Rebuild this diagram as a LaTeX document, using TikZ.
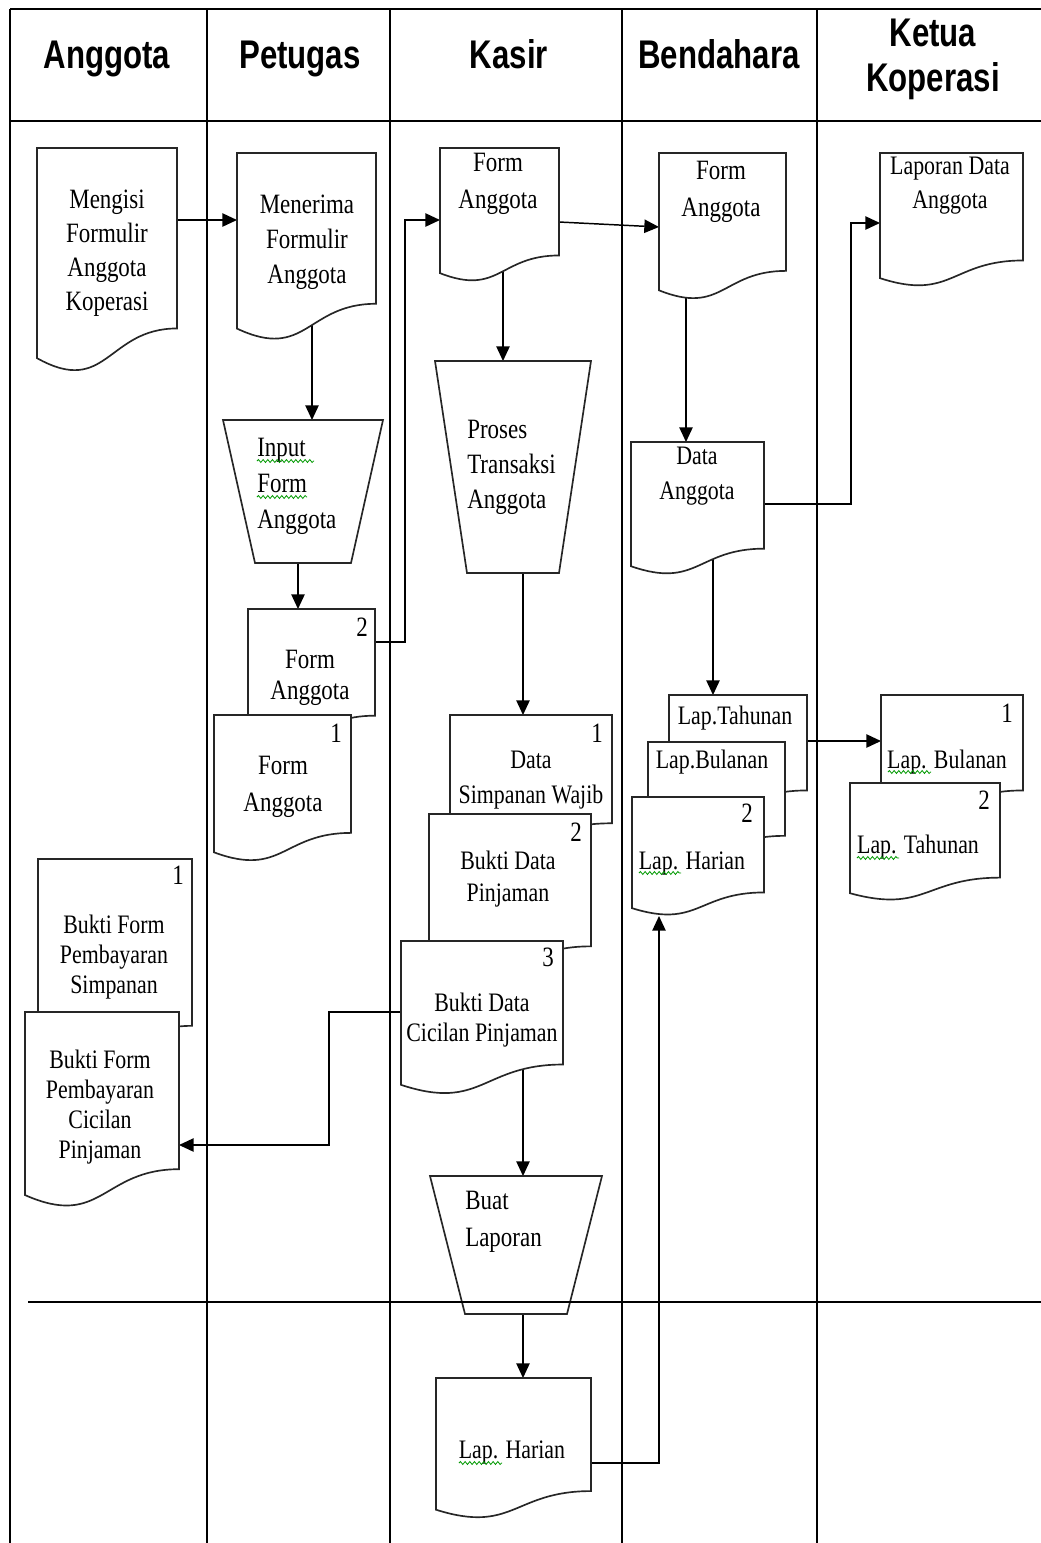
\documentclass[tikz,border=0pt]{standalone}
\usepackage{fontspec}
\setmainfont{Liberation Serif}[FakeStretch=0.82]
\newfontfamily\headfont{Liberation Sans}[FakeStretch=0.78]
\usetikzlibrary{calc,fit,arrows.meta,decorations.pathmorphing}

\pgfdeclarelayer{lanes}
\pgfdeclarelayer{links}
\pgfsetlayers{lanes,links,main}

% document symbol: straight top and sides, wavy bottom edge
\newcommand\flowdoc[5]{%
  \node[docbox, fit={(#2,#3) (#4,#5)}] (#1) {};
  \draw[outline] (#1.north west) -- (#1.north east)
    -- ($(#1.north east)!0.802!(#1.south east)$)
    .. controls ($(#1.north)!0.802!(#1.south)$) and ($(#1.north)!1.1075!(#1.south)$)
    .. ($(#1.north west)!0.934!(#1.south west)$) -- cycle;
}
% manual operation symbol: trapezium, wide side on top
\newcommand\flowtrap[6]{%
  \node[docbox, fit={(#2,#3) (#4,#5)}] (#1) {};
  \draw[outline] (#1.north west) -- (#1.north east)
    -- ($(#1.south east)+(-#6,0)$) -- ($(#1.south west)+(#6,0)$) -- cycle;
}

\begin{document}
\begin{tikzpicture}[x=0.75pt,y=-0.75pt,
  docbox/.style={inner sep=0pt, outer sep=0pt, draw=none},
  outline/.style={draw=black!85, line width=1.25pt, fill=white, line join=miter},
  laneline/.style={draw=black, line width=1.1pt},
  headline/.style={draw=black, line width=1.6pt},
  divider/.style={draw=black, line width=1.7pt},
  link/.style={draw=black, line width=1.1pt},
  arr/.style={link, -{Triangle[length=11pt,width=10pt]}},
  hdr/.style={inner sep=0pt, font=\headfont\bfseries\fontsize{30pt}{33.75pt}\selectfont, align=center},
  lbl/.style={inner sep=0pt, align=center, font=\fontsize{21pt}{#1}\selectfont},
  lbl/.default=26pt,
  slbl/.style={inner sep=0pt, align=center, font=\fontsize{20pt}{#1}\selectfont},
  slbl/.default=25pt,
  num/.style={inner sep=0pt, font=\fontsize{21pt}{21pt}\selectfont},
  squig/.style={draw=green!60!black, line width=0.6pt, decorate,
    decoration={snake, amplitude=1.1pt, segment length=3.5pt}},
]
\useasboundingbox (0,0) rectangle (1041,1543);

% swimlane frame
\begin{pgfonlayer}{lanes}
  \draw[headline] (10,9) -- (1041,9);
  \draw[headline] (10,121) -- (1041,121);
  \draw[laneline] (10,9) -- (10,1543);
  \foreach \x in {207,390,622,817} \draw[laneline] (\x,9) -- (\x,1543);
\end{pgfonlayer}

% lane titles
\node[hdr, anchor=base] (h-anggota) at (107,68) {Anggota};
\node[hdr, anchor=base] (h-petugas) at (300,68) {Petugas};
\node[hdr, anchor=base] (h-kasir) at (509,68) {Kasir};
\node[hdr, anchor=base] (h-bendahara) at (719,68) {Bendahara};
\node[hdr] (h-ketua) at (933,59) {Ketua\\Koperasi};

% Anggota: application form
\flowdoc{mengisi}{37}{148}{177}{373}
\node[lbl=25.5pt] (t-mengisi) at (107,253) {Mengisi\\Formulir\\Anggota\\Koperasi};

% Petugas
\flowdoc{menerima}{237}{153}{376}{341}
\node[lbl=26.25pt] (t-menerima) at (307,242) {Menerima\\Formulir\\Anggota};

\flowtrap{input}{223}{420}{383}{563}{32}
\node[lbl=27pt, align=left, anchor=west] (t-input) at (257,486) {Input\\Form\\Anggota};
\draw[squig] (257,461) -- (314,461);
\draw[squig] (257,497) -- (307,497);

\flowdoc{pform2}{248}{609}{375}{742}
\node[num] (n-pform2) at (362,627) {2};
\node[lbl=23.25pt] (t-pform2) at (310,678) {Form\\Anggota};
\flowdoc{pform1}{214}{715}{351}{862}
\node[num] (n-pform1) at (336,733) {1};
\node[lbl=27.75pt] (t-pform1) at (283,787) {Form\\Anggota};

% Kasir
\flowdoc{kform}{440}{148}{559}{282}
\node[lbl=27.75pt] (t-kform) at (498,184) {Form\\Anggota};

\flowtrap{proses}{435}{361}{591}{573}{32}
\node[lbl=26.25pt, align=left, anchor=west] (t-proses) at (467,467) {Proses\\Transaksi\\Anggota};

\flowdoc{ks1}{450}{715}{612}{850}
\node[num] (n-ks1) at (597,733) {1};
\node[slbl=26.25pt] (t-ks1) at (531,780) {Data\\Simpanan Wajib};
\flowdoc{ks2}{429}{814}{591}{979}
\node[num] (n-ks2) at (576,832) {2};
\node[slbl=24pt] (t-ks2) at (508,879) {Bukti Data\\Pinjaman};
\flowdoc{ks3}{401}{941}{563}{1095}
\node[num] (n-ks3) at (548,957) {3};
\node[slbl=22.5pt] (t-ks3) at (482,1020) {Bukti Data\\Cicilan Pinjaman};

\flowtrap{buat}{430}{1176}{602}{1314}{35}
\node[lbl=27.75pt, align=left, anchor=west] (t-buat) at (465,1222) {Buat\\Laporan};

\flowdoc{kharian}{436}{1378}{591}{1519}
\node[slbl] (t-kharian) at (512,1452) {Lap. Harian};
\draw[squig] (459,1463) -- (502,1463);

% Bendahara
\flowdoc{bform}{659}{153}{786}{300}
\node[lbl=27.75pt] (t-bform) at (721,192) {Form\\Anggota};

\flowdoc{dataang}{631}{442}{764}{575}
\node[slbl=26.25pt] (t-dataang) at (697,476) {Data\\Anggota};

\flowdoc{btahun}{669}{695}{807}{814}
\node[slbl] (t-btahun) at (735,718) {Lap.Tahunan};
\flowdoc{bbulan}{648}{742}{785}{859}
\node[slbl] (t-bbulan) at (712,762) {Lap.Bulanan};
\flowdoc{bharian}{632}{797}{764}{916}
\node[num] (n-bharian) at (747,813) {2};
\node[slbl] (t-bharian) at (692,863) {Lap. Harian};
\draw[squig] (639,873) -- (681,873);

% Ketua Koperasi
\flowdoc{laporan}{880}{153}{1023}{287}
\node[slbl=25.5pt] (t-laporan) at (950,186) {Laporan Data\\Anggota};

\flowdoc{kbulan}{881}{695}{1023}{814}
\node[num] (n-kbulan) at (1007,713) {1};
\node[slbl] (t-kbulan) at (947,762) {Lap. Bulanan};
\draw[squig] (888,772) -- (931,772);
\flowdoc{ktahun}{850}{783}{1000}{901}
\node[num] (n-ktahun) at (984,800) {2};
\node[slbl] (t-ktahun) at (918,847) {Lap. Tahunan};
\draw[squig] (857,858) -- (899,858);

% Anggota: payment receipts
\flowdoc{abukti1}{38}{859}{192}{1067}
\node[num] (n-abukti1) at (178,875) {1};
\node[slbl=22.5pt] (t-abukti1) at (114,957) {Bukti Form\\Pembayaran\\Simpanan};
\flowdoc{abukti2}{25}{1012}{179}{1208}
\node[slbl=22.5pt] (t-abukti2) at (100,1107) {Bukti Form\\Pembayaran\\Cicilan\\Pinjaman};

% flow lines, kept beneath the symbols
\begin{pgfonlayer}{links}
  \draw[arr] (mengisi.east |- 0,220) -- (menerima.west |- 0,220);
  \draw[arr] (menerima.center -| 312,0) -- (input.north -| 312,0);
  \draw[arr] (input.center -| 298,0) -- (pform2.north -| 298,0);
  \draw[arr] (pform2.east |- 0,642) -- ++(30,0) |- (kform.west |- 0,220);
  \draw[arr] (kform.east |- 0,222) -- (bform.west |- 0,227);
  \draw[arr] (kform.center -| 503,0) -- (proses.north -| 503,0);
  \draw[arr] (bform.center -| 686,0) -- (dataang.north -| 686,0);
  \draw[arr] (dataang.east |- 0,504) -- ++(87,0) |- (laporan.west |- 0,223);
  \draw[arr] (proses.center -| 523,0) -- (ks1.north -| 523,0);
  \draw[arr] (dataang.center -| 713,0) -- (btahun.north -| 713,0);
  \draw[arr] (btahun.east |- 0,741) -- (kbulan.west |- 0,741);
  \draw[arr] (ks3.west |- 0,1012) -- ++(-72,0) |- (abukti2.east |- 0,1145);
  \draw[arr] (ks3.center -| 523,0) -- (buat.north -| 523,0);
  \draw[arr] (buat.center -| 523,0) -- (kharian.north -| 523,0);
  \draw[arr] (kharian.east |- 0,1463) -| (bharian.south -| 659,0);
\end{pgfonlayer}

% report separator
\draw[divider] (28,1302) -- (1041,1302);
\end{tikzpicture}
\end{document}
